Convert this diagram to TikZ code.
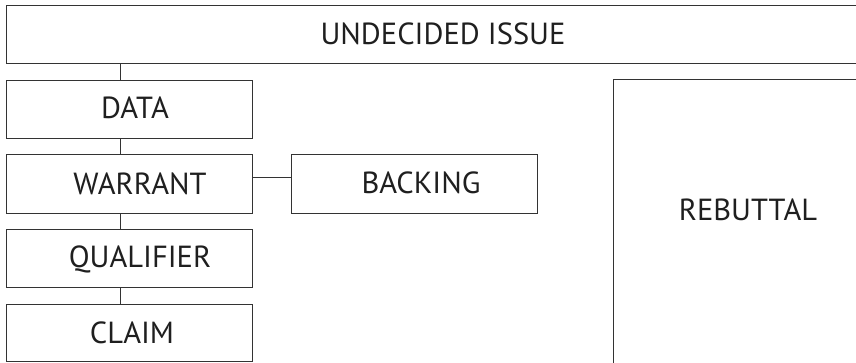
\documentclass[tikz,border=0pt]{standalone}
\usepackage{fontspec}
\setmainfont{PT Sans}
\begin{document}
\begin{tikzpicture}[x=1pt,y=1pt,
  box/.style={draw=black!80, line width=1pt, inner sep=0pt},
  lbl/.style={font=\fontsize{30.5}{34}\selectfont, text=black!88},
  link/.style={draw=black!80, line width=1pt}]
\useasboundingbox (0,0) rectangle (856,-362);
\fill[white] (0,0) rectangle (856,-362);
\clip (0,0) rectangle (856,-362);
% top issue bar (runs off the right edge)
\node[box, minimum width=860pt, minimum height=58pt, anchor=north west] (issue) at (6,-5) {};
\node[lbl] (issuetxt) at (443,-34) {UNDECIDED ISSUE};
% left column
\node[box, minimum width=246pt, minimum height=58pt, anchor=north west] (data) at (6,-80) {};
\node[lbl] (datatxt) at (135,-108) {DATA};
\node[box, minimum width=246pt, minimum height=59pt, anchor=north west] (warrant) at (6,-154) {};
\node[lbl] (warranttxt) at (140,-184) {WARRANT};
\node[box, minimum width=246pt, minimum height=58pt, anchor=north west] (qualifier) at (6,-229) {};
\node[lbl] (qualifiertxt) at (140,-259) {QUALIFIER};
\node[box, minimum width=246pt, minimum height=57pt, anchor=north west] (claim) at (6,-304) {};
\node[lbl] (claimtxt) at (132,-333) {CLAIM};
% backing
\node[box, minimum width=246pt, minimum height=59pt, anchor=north west] (backing) at (291,-154) {};
\node[lbl] (backingtxt) at (421,-183) {BACKING};
% rebuttal (runs off right and bottom)
\node[box, minimum width=260pt, minimum height=290pt, anchor=north west] (rebuttal) at (613,-79) {};
\node[lbl] (rebuttaltxt) at (748,-210) {REBUTTAL};
% connectors
\draw[link] (issue.south west -| 120,0) -- (data.north west -| 120,0);
\draw[link] (data.south west -| 120,0) -- (warrant.north west -| 120,0);
\draw[link] (warrant.south west -| 120,0) -- (qualifier.north west -| 120,0);
\draw[link] (qualifier.south west -| 120,0) -- (claim.north west -| 120,0);
\draw[link] (warrant.east |- 0,-177) -- (backing.west |- 0,-177);
\end{tikzpicture}
\end{document}
